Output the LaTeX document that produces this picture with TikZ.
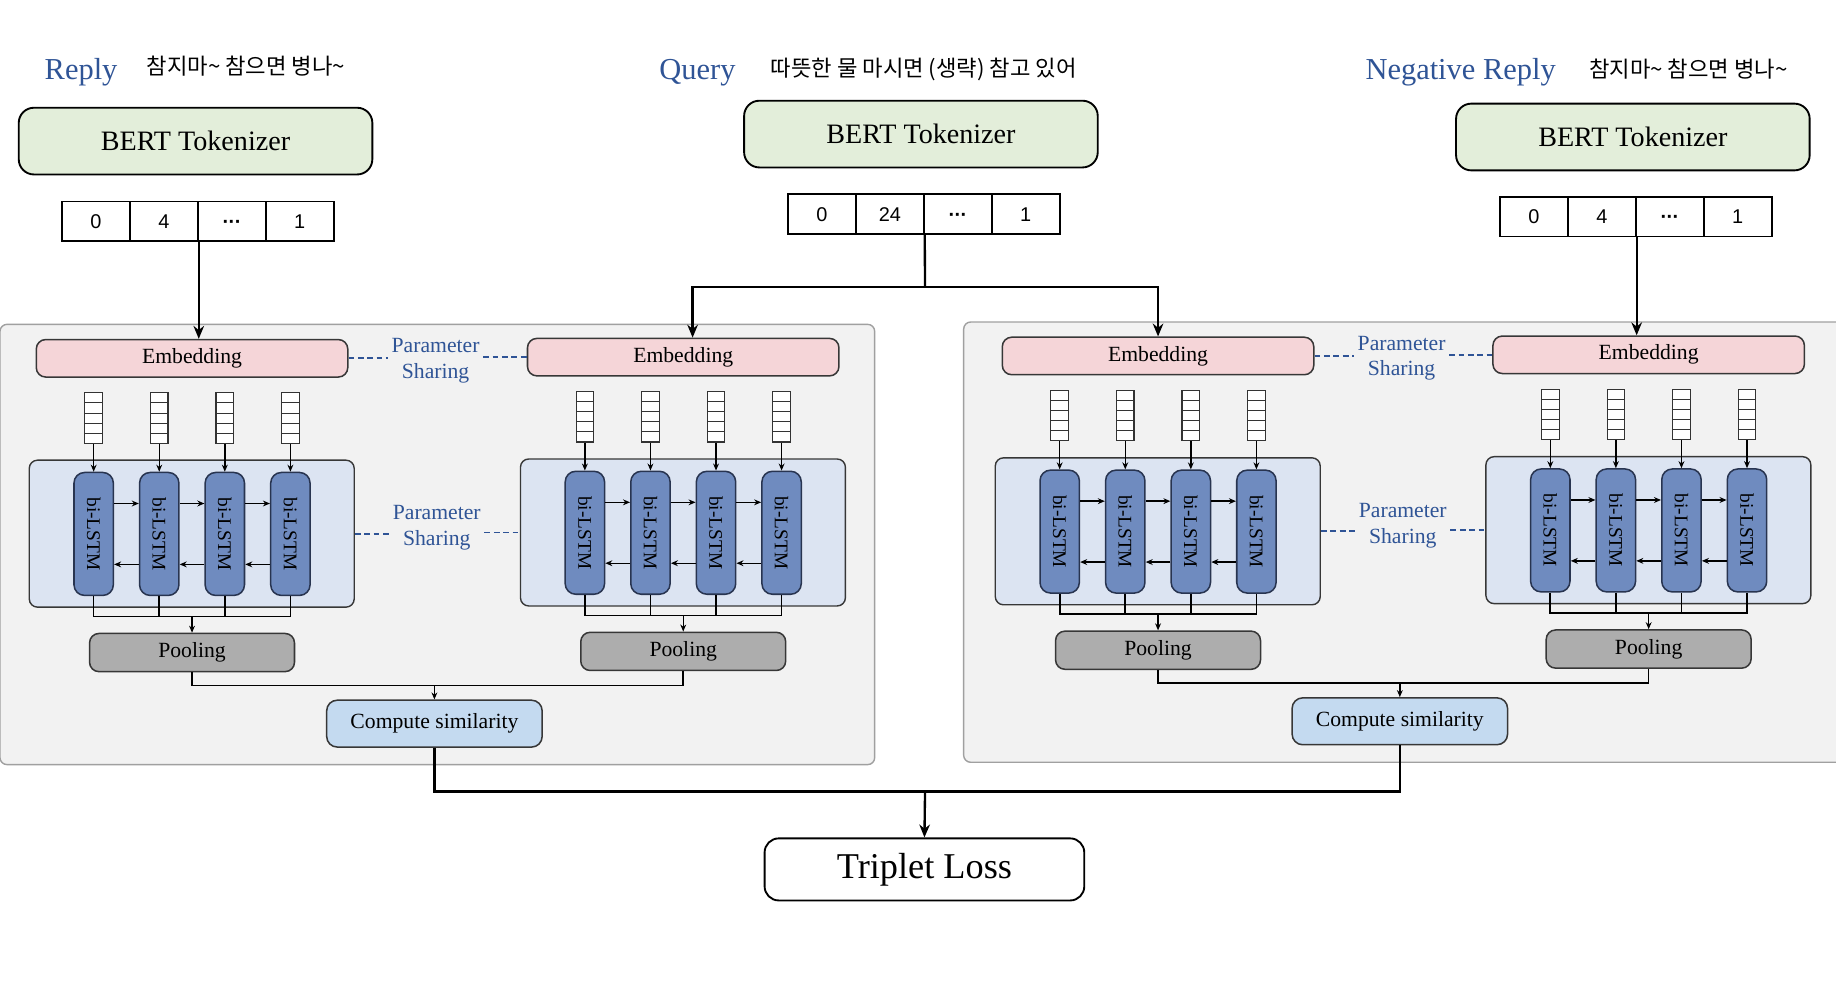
\documentclass[tikz,border=0pt]{standalone}
\usepackage{fontspec}
\setmainfont{Liberation Serif}
\newfontfamily\krfont{Noto Sans CJK KR}
\newfontfamily\numfont{Liberation Sans}
\usetikzlibrary{arrows.meta}
\definecolor{lblue}{RGB}{47,84,150}
\definecolor{tokgreen}{RGB}{227,238,218}
\definecolor{embpink}{RGB}{245,213,216}
\definecolor{contblue}{RGB}{220,228,242}
\definecolor{lstmblue}{RGB}{111,139,191}
\definecolor{lstmborder}{RGB}{40,52,80}
\definecolor{poolgray}{RGB}{173,173,173}
\definecolor{boxborder}{RGB}{55,55,55}
\definecolor{compblue}{RGB}{196,218,240}
\definecolor{panelfill}{RGB}{242,242,242}
\definecolor{panelborder}{RGB}{160,160,160}
\newcommand\tokdots{\vphantom{0}\textbf{\kern0.02em·\kern-0.03em·\kern-0.03em·}}
\tikzset{
 tokbox/.style={draw=black, line width=1.6pt, rounded corners=13pt, fill=tokgreen, minimum width=302pt, minimum height=57pt, inner sep=0pt, font=\fontsize{24}{28}\selectfont},
 cellbox/.style={draw=black, line width=1.5pt, fill=white, minimum width=58pt, minimum height=34pt, inner sep=0pt, font=\numfont\fontsize{17}{20}\selectfont},
 panel/.style={draw=panelborder, line width=1.2pt, fill=panelfill, rounded corners=6pt},
 emb/.style={draw=boxborder, line width=1.3pt, fill=embpink, rounded corners=8pt, minimum width=266pt, minimum height=32pt, inner sep=0pt, font=\fontsize{18.5}{22}\selectfont},
 vec/.style={draw=black!80, line width=1pt, fill=white, minimum width=15pt, minimum height=43pt, inner sep=0pt},
 vecline/.style={draw=black!80, line width=0.8pt},
 cont/.style={draw=boxborder, line width=1.2pt, fill=contblue, rounded corners=7pt, minimum width=277.5pt, minimum height=125.5pt, inner sep=0pt},
 lstm/.style={draw=lstmborder, line width=1.3pt, fill=lstmblue, rounded corners=9pt, minimum width=33.6pt, minimum height=105pt, inner sep=0pt, font=\fontsize{16.5}{20}\selectfont},
 pool/.style={draw=boxborder, line width=1.3pt, fill=poolgray, rounded corners=8pt, minimum width=175pt, minimum height=32.6pt, inner sep=0pt, font=\fontsize{18.5}{22}\selectfont},
 comp/.style={draw=boxborder, line width=1.3pt, fill=compblue, rounded corners=9pt, minimum width=184pt, minimum height=40pt, inner sep=0pt, font=\fontsize{18.5}{22}\selectfont},
 lossbox/.style={draw=black, line width=1.6pt, fill=white, rounded corners=12pt, minimum width=273pt, minimum height=53pt, inner sep=0pt, font=\fontsize{31}{36}\selectfont},
 psh/.style={text=lblue, align=center, font=\fontsize{18.5}{22}\selectfont, inner sep=3pt},
 dsh/.style={draw=lblue, line width=1.5pt, dash pattern=on 5pt off 3pt},
 conn/.style={draw=black, line width=2pt},
 arr/.style={conn, -{Stealth[length=11pt,width=9pt]}},
 sconn/.style={draw=black, line width=1.4pt},
 sarr/.style={draw=black, line width=1.2pt, -{Stealth[length=6pt,width=5pt]}},
 titletext/.style={text=lblue, font=\fontsize{26}{30}\selectfont, inner sep=0pt, anchor=base west},
 krtext/.style={font=\krfont\fontsize{19}{22}\selectfont, inner sep=0pt, anchor=base west},
}
\newcommand\branch[3]{%
\begin{scope}[shift={(#2,#3)}]
 \node[emb] (#1emb) at (164,306) {Embedding};
 \node[cont] (#1box) at (163.75,455.75) {};
 \foreach \i/\cx in {1/80,2/136,3/192,4/248}{
   \node[vec] (#1v\i) at (\cx,357) {};
   \foreach \k in {1,2,3,4}{\draw[vecline] (\cx-7.5,{335.5+\k*8.6}) -- ++(15,0);}
   \node[lstm] (#1c\i) at (\cx,456) {\rotatebox{-90}{bi-LSTM}};
   \draw[sarr] (#1v\i.south) -- (#1c\i.north);
 }
 \foreach \i/\j in {1/2,2/3,3/4}{
   \draw[sarr] ([yshift=26pt]#1c\i.east) -- ([yshift=26pt]#1c\j.west);
   \draw[sarr] ([yshift=-26pt]#1c\j.west) -- ([yshift=-26pt]#1c\i.east);
 }
 \node[pool] (#1pool) at (164,557.3) {Pooling};
 \coordinate (#1bus) at (164,526.6);
 \draw[sconn] (#1c1.south) |- (#1c4.south |- #1bus) -- (#1c4.south);
 \draw[sconn] (#1c2.south) -- (#1c2.south |- #1bus);
 \draw[sconn] (#1c3.south) -- (#1c3.south |- #1bus);
 \draw[sarr] (#1bus) -- (#1pool.north);
\end{scope}}
\begin{document}
\begin{tikzpicture}[x=1pt,y=-1pt]
\clip (0,0) rectangle (1568,849);
\fill[white] (0,0) rectangle (1568,849);
% titles
\node[titletext] (tR) at (38,67.6) {Reply};
\node[krtext] (kR) at (125,64) {참지마\textasciitilde{} 참으면 병나\textasciitilde};
\node[titletext] (tQ) at (563,67.7) {Query};
\node[krtext] (kQ) at (658,65) {따뜻한 물 마시면 (생략) 참고 있어};
\node[titletext] (tN) at (1166,68.3) {Negative Reply};
\node[krtext] (kN) at (1357,66) {참지마\textasciitilde{} 참으면 병나\textasciitilde};
% tokenizers
\node[tokbox] (tokL) at (167,120.5) {BERT Tokenizer};
\node[tokbox] (tokM) at (786.5,114.5) {BERT Tokenizer};
\node[tokbox] (tokR) at (1394.5,117) {BERT Tokenizer};
% token arrays
\node[cellbox] (La1) at (82,189) {0};
\node[cellbox] (La2) at (140,189) {4};
\node[cellbox] (La3) at (198,189) {\tokdots};
\node[cellbox] (La4) at (256,189) {1};
\node[cellbox] (Ma1) at (702,183) {0};
\node[cellbox] (Ma2) at (760,183) {24};
\node[cellbox] (Ma3) at (818,183) {\tokdots};
\node[cellbox] (Ma4) at (876,183) {1};
\node[cellbox] (Ra1) at (1310,185) {0};
\node[cellbox] (Ra2) at (1368,185) {4};
\node[cellbox] (Ra3) at (1426,185) {\tokdots};
\node[cellbox] (Ra4) at (1484,185) {1};
% panels
\path[panel] (0,277) rectangle (747,653);
\path[panel] (823,275) rectangle (1580,651);
% branches
\branch{A}{0}{0}
\branch{B}{419.5}{-1}
\branch{C}{825}{-2}
\branch{D}{1244}{-3}
% parameter sharing
\node[psh] (P1) at (372,308) {Parameter\\Sharing};
\node[psh] (P2) at (373,451) {Parameter\\Sharing};
\node[psh] (P3) at (1197,306) {Parameter\\Sharing};
\node[psh] (P4) at (1198,449) {Parameter\\Sharing};
\draw[dsh] (Aemb.east) -- (P1.west |- Aemb.east);
\draw[dsh] (P1.east |- Bemb.west) -- (Bemb.west);
\draw[dsh] (Abox.east) -- (P2.west |- Abox.east);
\draw[dsh] (P2.east |- Bbox.west) -- (Bbox.west);
\draw[dsh] (Cemb.east) -- (P3.west |- Cemb.east);
\draw[dsh] (P3.east |- Demb.west) -- (Demb.west);
\draw[dsh] (Cbox.east) -- (P4.west |- Cbox.east);
\draw[dsh] (P4.east |- Dbox.west) -- (Dbox.west);
% token to embedding
\draw[arr] (La2.south east) -- (La2.south east |- Aemb.north);
\coordinate (mj) at (790,245);
\draw[conn] (Ma2.south east) -- (mj);
\draw[arr] (mj) -| ([xshift=8pt]Bemb.north);
\draw[arr] (mj) -| (Cemb.north);
\draw[arr] (Ra2.south east) -- (Ra2.south east |- Demb.north);
% compute similarity
\node[comp] (compL) at (371,618) {Compute similarity};
\node[comp] (compR) at (1195.5,616) {Compute similarity};
\coordinate (Lj) at (371,585.5);
\coordinate (Rj) at (1195.5,583.5);
\draw[sconn] (Apool.south) |- (Lj) -| (Bpool.south);
\draw[sarr] (Lj) -- (compL.north);
\draw[sconn] (Cpool.south) |- (Rj) -| (Dpool.south);
\draw[sarr] (Rj) -- (compR.north);
% triplet loss
\node[lossbox] (loss) at (789.5,742.5) {Triplet Loss};
\coordinate (tj) at (790,676);
\draw[conn] (compL.south) |- (tj) -| (compR.south);
\draw[arr] (tj) -- (loss.north);
\end{tikzpicture}
\end{document}
